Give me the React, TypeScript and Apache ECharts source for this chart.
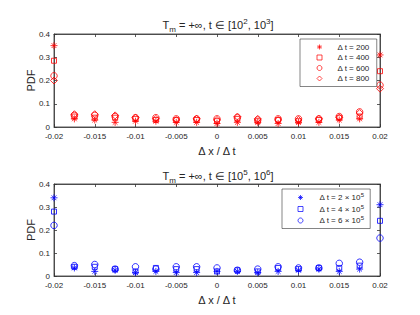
import React, { useEffect, useRef } from "react";
import * as echarts from "echarts";

const xs = [-0.02, -0.0175, -0.015, -0.0125, -0.01, -0.0075, -0.005, -0.0025, 0, 0.0025, 0.005, 0.0075, 0.01, 0.0125, 0.015, 0.0175, 0.02];

// top panel: t in [1e2, 1e3]
const topNames = ["Δ t = 200", "Δ t = 400", "Δ t = 600", "Δ t = 800"];
const top200 = [0.35, 0.035, 0.03, 0.02, 0.025, 0.025, 0.02, 0.02, 0.015, 0.02, 0.02, 0.015, 0.02, 0.02, 0.03, 0.035, 0.31];
const top400 = [0.285, 0.045, 0.04, 0.04, 0.035, 0.03, 0.03, 0.03, 0.025, 0.035, 0.025, 0.03, 0.025, 0.03, 0.04, 0.045, 0.24];
const top600 = [0.22, 0.05, 0.05, 0.045, 0.04, 0.04, 0.035, 0.035, 0.035, 0.04, 0.03, 0.035, 0.035, 0.035, 0.045, 0.065, 0.18];
const top800 = [0.2, 0.055, 0.055, 0.05, 0.04, 0.035, 0.03, 0.035, 0.03, 0.045, 0.035, 0.03, 0.03, 0.035, 0.04, 0.06, 0.165];

// bottom panel: t in [1e5, 1e6]
const botNames = ["Δ t = 2 × 10^5", "Δ t = 4 × 10^5", "Δ t = 6 × 10^5"];
const bot2 = [0.34, 0.035, 0.02, 0.025, 0.015, 0.02, 0.015, 0.015, 0.02, 0.02, 0.015, 0.02, 0.025, 0.03, 0.02, 0.03, 0.31];
const bot4 = [0.28, 0.04, 0.04, 0.03, 0.02, 0.035, 0.03, 0.03, 0.02, 0.025, 0.02, 0.035, 0.03, 0.035, 0.035, 0.045, 0.24];
const bot6 = [0.22, 0.045, 0.05, 0.03, 0.04, 0.03, 0.04, 0.04, 0.035, 0.025, 0.03, 0.04, 0.035, 0.035, 0.055, 0.06, 0.165];

const xMin = -0.02;
const xMax = 0.02;
const xStep = 0.005;
const yMin = 0;
const yMax = 0.4;
const yStep = 0.1;

const RED = "#ff0000";
const BLUE = "#0000ff";
const AX = "#333333";
const TXT = "#262626";
const FONT = "Liberation Sans, Arial, sans-serif";

const ASTERISK = "path://M5 0 L5 10 M0 5 L10 5 M1.6 1.6 L8.4 8.4 M1.6 8.4 L8.4 1.6";

function fmtX(v: number) {
  const r = Math.round(v * 10000) / 10000;
  return String(r);
}
function fmtY(v: number) {
  const r = Math.round(v * 100) / 100;
  return String(r);
}

const markerDefs = [
  { symbol: ASTERISK, size: 7 },
  { symbol: "rect", size: 5 },
  { symbol: "circle", size: 6.5 },
  { symbol: "diamond", size: 7 },
];

function makeSeries(name: string, vals: number[], idx: number, color: string, axisIdx: number) {
  const m = markerDefs[idx];
  return {
    name,
    type: "scatter",
    xAxisIndex: axisIdx * 2,
    yAxisIndex: axisIdx * 2,
    data: xs.map((x, i) => [x, vals[i]]),
    symbol: m.symbol,
    symbolSize: m.size,
    symbolKeepAspect: true,
    clip: false,
    itemStyle: { color: "none", borderColor: color, borderWidth: 1 },
    emphasis: { disabled: true },
  };
}

function xAxes(grid: number) {
  const base = {
    type: "value",
    gridIndex: grid,
    min: xMin,
    max: xMax,
    interval: xStep,
    splitLine: { show: false },
    axisLine: { show: true, onZero: false, lineStyle: { color: AX, width: 0.8 } },
    axisTick: { show: true, inside: true, length: 3, lineStyle: { color: AX, width: 0.8 } },
  };
  return [
    {
      ...base,
      position: "bottom",
      axisLabel: { show: true, fontSize: 8, color: TXT, fontFamily: FONT, margin: 5, formatter: fmtX },
      name: "Δ x / Δ t",
      nameLocation: "middle",
      nameGap: 18,
      nameMoveOverlap: false,
      nameTextStyle: { fontSize: 11, color: TXT, fontFamily: FONT },
    },
    { ...base, position: "top", axisLabel: { show: false } },
  ];
}

function yAxes(grid: number) {
  const base = {
    type: "value",
    gridIndex: grid,
    min: yMin,
    max: yMax,
    interval: yStep,
    splitLine: { show: false },
    axisLine: { show: true, onZero: false, lineStyle: { color: AX, width: 0.8 } },
    axisTick: { show: true, inside: true, length: 3, lineStyle: { color: AX, width: 0.8 } },
  };
  return [
    {
      ...base,
      position: "left",
      axisLabel: { show: true, fontSize: 8, color: TXT, fontFamily: FONT, margin: 4, formatter: fmtY },
      name: "PDF",
      nameLocation: "middle",
      nameGap: 18,
      nameMoveOverlap: false,
      nameTextStyle: { fontSize: 11, color: TXT, fontFamily: FONT },
    },
    { ...base, position: "right", axisLabel: { show: false } },
  ];
}

const titleRich = {
  a: { fontSize: 11, fontWeight: "normal", color: TXT, fontFamily: FONT, lineHeight: 16, verticalAlign: "middle" },
  b: { fontSize: 8, fontWeight: "normal", color: TXT, fontFamily: FONT, lineHeight: 8, verticalAlign: "bottom" },
  c: { fontSize: 8, fontWeight: "normal", color: TXT, fontFamily: FONT, lineHeight: 8, verticalAlign: "top" },
};

function legendRich(padLeft: number) {
  return {
    p: { fontSize: 8, color: TXT, fontFamily: FONT, lineHeight: 11, verticalAlign: "middle", padding: [0, 0, 0, padLeft] },
    s: { fontSize: 6, color: TXT, fontFamily: FONT, lineHeight: 6, verticalAlign: "top" },
  };
}

function legendFmt(name: string) {
  const k = name.indexOf("^");
  if (k < 0) return "{p|" + name + "}";
  return "{p|" + name.slice(0, k) + "}{s|" + name.slice(k + 1) + "}";
}

export default function App() {
  const ref = useRef<HTMLDivElement>(null);
  useEffect(() => {
    if (!ref.current) return;
    const chart = echarts.init(ref.current, null, { renderer: "svg" });
    const topVals = [top200, top400, top600, top800];
    const botVals = [bot2, bot4, bot6];
    const option: any = {
      animation: false,
      backgroundColor: "#ffffff",
      title: [
        {
          text: "{a|T}{b|m}{a| = +∞, t ∈ [10}{c|2}{a|, 10}{c|3}{a|]}",
          left: 213,
          textAlign: "center",
          top: 12,
          textStyle: { fontWeight: "normal", rich: titleRich },
        },
        {
          text: "{a|T}{b|m}{a| = +∞, t ∈ [10}{c|5}{a|, 10}{c|6}{a|]}",
          left: 213,
          textAlign: "center",
          top: 163,
          textStyle: { fontWeight: "normal", rich: titleRich },
        },
      ],
      grid: [
        { left: 54, top: 34, width: 326, height: 93, show: true, borderColor: AX, borderWidth: 0.8, backgroundColor: "transparent" },
        { left: 54, top: 184, width: 326, height: 92, show: true, borderColor: AX, borderWidth: 0.8, backgroundColor: "transparent" },
      ],
      xAxis: [...xAxes(0), ...xAxes(1)],
      yAxis: [...yAxes(0), ...yAxes(1)],
      legend: [
        {
          data: topNames,
          orient: "vertical",
          left: 300,
          top: 39,
          itemWidth: 5,
          itemHeight: 5,
          itemGap: 0.5,
          padding: [3, 7, 3, 14.5],
          borderColor: AX,
          borderWidth: 0.6,
          backgroundColor: "#ffffff",
          itemStyle: { borderWidth: 0.9 },
          formatter: legendFmt,
          textStyle: { rich: legendRich(10.5) },
          selectedMode: false,
        },
        {
          data: botNames,
          orient: "vertical",
          left: 282,
          top: 189,
          itemWidth: 5,
          itemHeight: 5,
          itemGap: 1,
          padding: [3, 6, 3, 13.5],
          borderColor: AX,
          borderWidth: 0.6,
          backgroundColor: "#ffffff",
          itemStyle: { borderWidth: 0.9 },
          formatter: legendFmt,
          textStyle: { rich: legendRich(11.5) },
          selectedMode: false,
        },
      ],
      series: [
        ...topNames.map((n, i) => makeSeries(n, topVals[i], i, RED, 0)),
        ...botNames.map((n, i) => makeSeries(n, botVals[i], i, BLUE, 1)),
      ],
    };
    chart.setOption(option);
    return () => chart.dispose();
  }, []);
  return <div ref={ref} style={{ position: "fixed", left: 0, top: 0, width: 420, height: 315 }} />;
}
